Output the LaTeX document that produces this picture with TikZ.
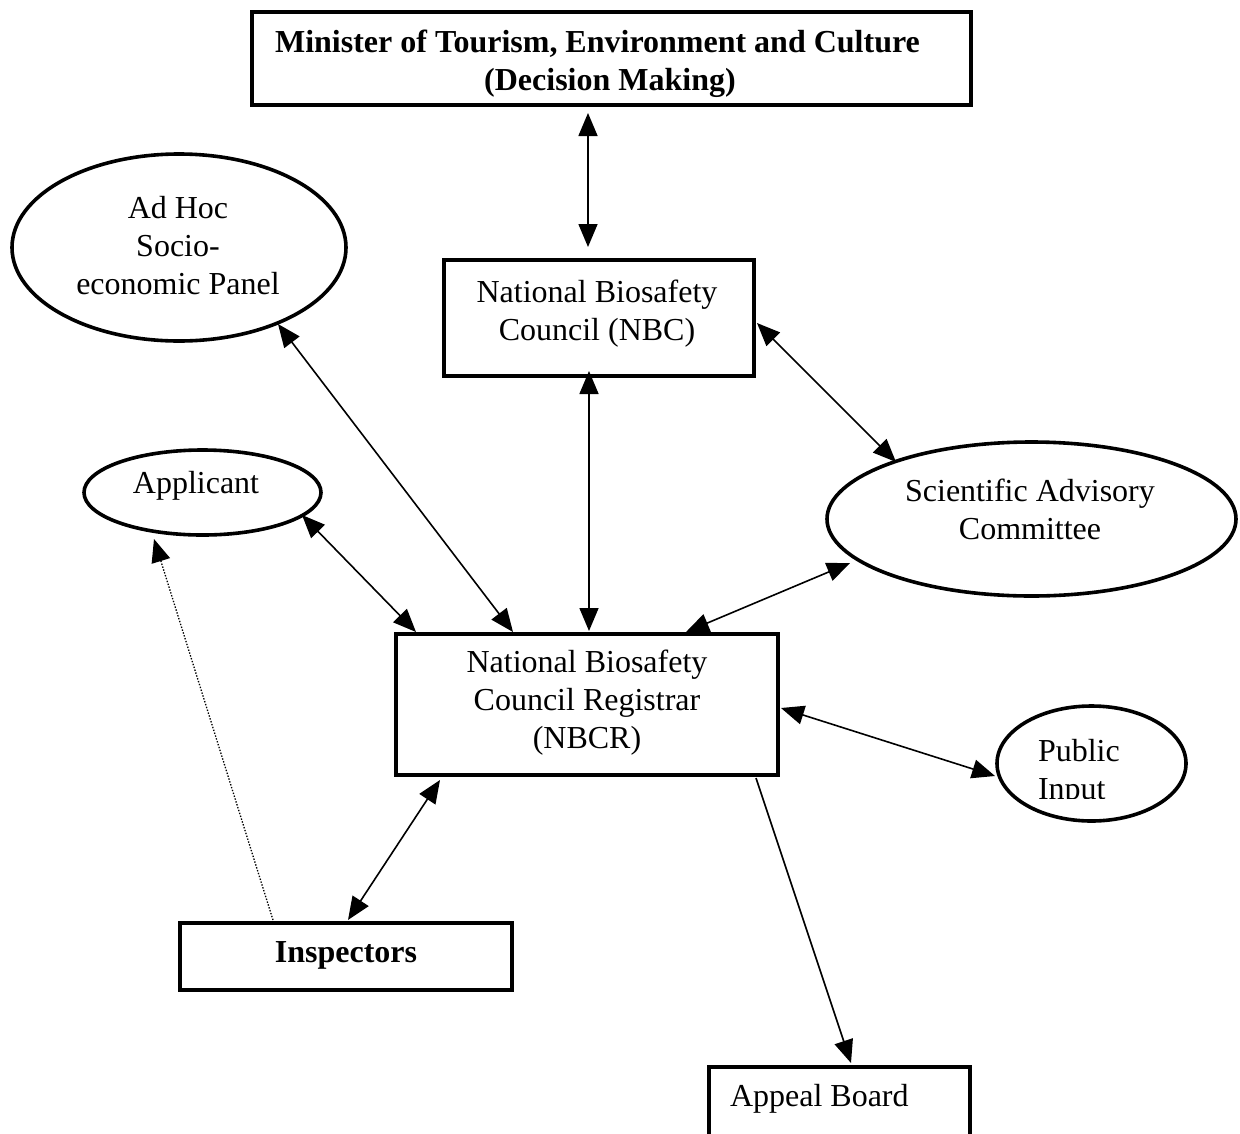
\documentclass[tikz,border=0pt]{standalone}
\usepackage{fontspec}
\setmainfont{Liberation Serif}
\usetikzlibrary{arrows.meta,calc,shapes.geometric}
\begin{document}
\begin{tikzpicture}[x=1pt,y=-1pt,
  every node/.style={font=\fontsize{32}{38}\selectfont},
  box/.style={draw,line width=3.6pt,rectangle,inner sep=0pt,outer sep=0pt},
  oval/.style={draw,line width=3.6pt,ellipse,inner sep=0pt,outer sep=0pt},
  txt/.style={inner sep=0pt,outer sep=0pt,align=center},
  tipA/.tip={Triangle[length=23pt,width=19pt]},
  both/.style={line width=1.6pt,tipA-tipA},
  one/.style={line width=1.6pt,-tipA},
  dots/.style={line width=1.3pt,dash pattern=on 1.4pt off 1.6pt,-tipA}]
\fill[white] (0,0) rectangle (1240,1133);
\useasboundingbox (0,0) rectangle (1240,1133);

% shapes
\node[box,minimum width=719pt,minimum height=93pt] (minister) at (611.5,58.5) {};
\node[txt,font=\fontsize{32}{38}\selectfont\bfseries] (ministertext) at (597.5,63.5)
  {Minister of Tourism, Environment and Culture\\\hspace*{25pt}(Decision Making)};

\node[box,minimum width=310pt,minimum height=116pt] (nbc) at (599,318) {};
\node[txt] (nbctext) at (597,314) {National Biosafety\\Council (NBC)};

\node[oval,minimum width=334pt,minimum height=187pt] (adhoc) at (179,247.5) {};
\node[txt] (adhoctext) at (178,245.5) {Ad Hoc\\Socio-\\economic Panel};

\node[oval,minimum width=237pt,minimum height=85pt] (applicant) at (202.5,492.5) {};
\node[txt] (applicanttext) at (196,485.5) {Applicant};

\node[oval,minimum width=409pt,minimum height=154pt] (sac) at (1031.5,519) {};
\node[txt] (sactext) at (1030,509.5) {Scientific Advisory\\Committee};

\node[box,minimum width=382pt,minimum height=141pt] (nbcr) at (587,704.5) {};
\node[txt] (nbcrtext) at (587,702.5) {National Biosafety\\Council Registrar\\(NBCR)};

\node[oval,minimum width=189pt,minimum height=115pt] (public) at (1091.5,763.5) {};
\begin{scope}
  \clip (990,690) rectangle (1200,798);
  \node[txt,align=left,anchor=north west] (publictext) at (1038,739) {Public\\Input};
\end{scope}

\node[box,minimum width=332pt,minimum height=67pt] (insp) at (346,956.5) {};
\node[txt,anchor=base,font=\fontsize{32}{38}\selectfont\bfseries] (insptext) at (346,962) {Inspectors};

\node[box,minimum width=261pt,minimum height=140pt] (appeal) at (839.5,1137) {};
\node[txt,anchor=base west] (appealtext) at (730,1106) {Appeal Board};

% connectors
\draw[both] ($(minister.center)+(-23.5,54.5)$) -- ($(nbc.center)+(-11,-71)$);
\draw[both] ($(nbc.center)+(-10,53)$) -- ($(nbcr.center)+(2,-73.5)$);
\draw[both] ($(adhoc.center)+(99,76.5)$) -- ($(nbcr.center)+(-74,-72.5)$);
\draw[both] ($(applicant.center)+(99.5,22.5)$) -- ($(nbcr.center)+(-171,-72.5)$);
\draw[both] ($(nbc.center)+(158,5)$) -- ($(sac.center)+(-135.5,-57)$);
\draw[both] ($(sac.center)+(-181.5,44)$) -- ($(nbcr.center)+(99,-72.5)$);
\draw[both] ($(nbcr.center)+(194,3.5)$) -- ($(public.center)+(-96.5,12.5)$);
\draw[both] ($(nbcr.center)+(-147,75.5)$) -- ($(insp.center)+(2,-36.5)$);
\draw[one] ($(nbcr.center)+(169,73.5)$) -- ($(appeal.center)+(11.5,-74)$);
\draw[dots] ($(insp.center)+(-73,-36.5)$) -- ($(applicant.center)+(-48.5,46.5)$);
\end{tikzpicture}
\end{document}
